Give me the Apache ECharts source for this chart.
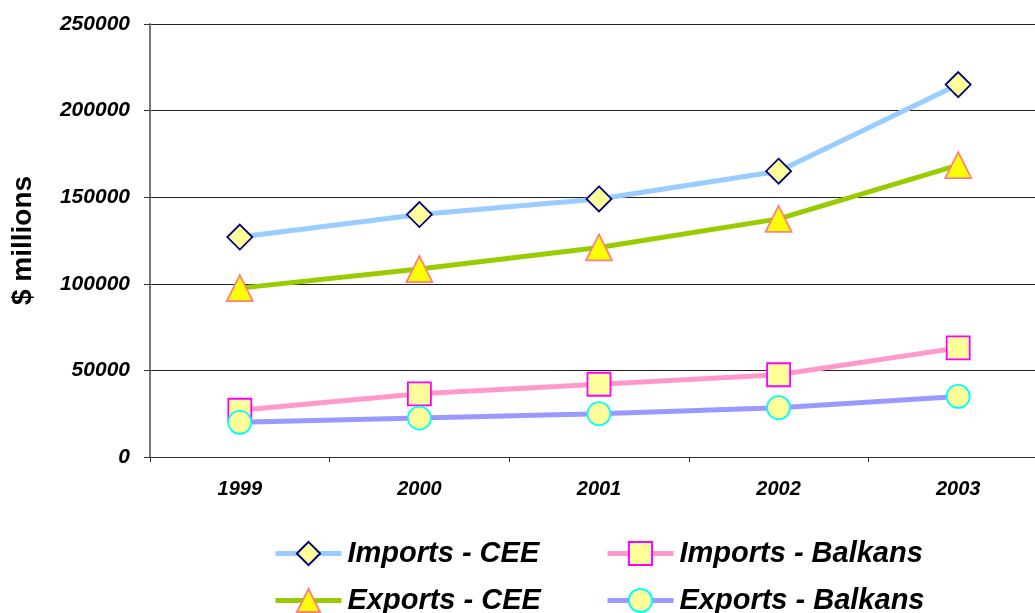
<!DOCTYPE html>
<html>
<head>
<meta charset="utf-8">
<script src="https://cdn.jsdelivr.net/npm/echarts@6/dist/echarts.min.js"></script>
<style>
  html, body { margin: 0; padding: 0; background: #fff; overflow: hidden; }
  #chart { width: 1050px; height: 613px; }
</style>
</head>
<body>
<div id="chart"></div>
<script>
// Trade flows, $ millions
const years = ['1999', '2000', '2001', '2002', '2003'];
const importsCEE = [127000, 140000, 149000, 165000, 215000];
const exportsCEE = [97500, 108500, 121000, 137500, 168500];
const importsBalkans = [27000, 36500, 42000, 47500, 63000];
const exportsBalkans = [20000, 22500, 25000, 28500, 35000];
const yTicks = { min: 0, max: 250000, interval: 50000 };

const FONT = '"Liberation Sans", Arial, sans-serif';

function lineSeries(name, data, lineColor, symbol, size, fill, border) {
  return {
    name: name,
    type: 'line',
    data: data,
    symbol: symbol,
    symbolSize: size,
    showAllSymbol: true,
    lineStyle: { color: lineColor, width: 5 },
    itemStyle: { color: fill, borderColor: border, borderWidth: 1.8 },
    emphasis: { disabled: true },
    z: 3
  };
}

const legendText = {
  fontFamily: FONT, fontSize: 29, fontWeight: 'bold', fontStyle: 'italic', color: '#000',
  padding: [0, 0, 0, 1]
};

// one legend entry per block so the two columns line up
function legendItem(name, left, top) {
  return {
    left: left, top: top, padding: 0,
    itemWidth: 66, itemHeight: 29,
    lineStyle: { width: 5 },
    textStyle: legendText,
    selectedMode: false,
    data: [name]
  };
}

const chart = echarts.init(document.getElementById('chart'), null, { renderer: 'canvas' });

chart.setOption({
  animation: false,
  backgroundColor: '#ffffff',
  grid: { left: 150, top: 24, width: 898, height: 433, containLabel: false, outerBoundsMode: 'none' },
  legend: [
    legendItem('Imports - CEE', 273, 539),
    legendItem('Exports - CEE', 273, 586),
    legendItem('Imports - Balkans', 605, 539),
    legendItem('Exports - Balkans', 605, 586)
  ],
  xAxis: {
    type: 'category',
    data: years,
    boundaryGap: true,
    axisLine: { show: true, lineStyle: { color: '#333', width: 1 } },
    axisTick: { show: true, length: 5, inside: false, lineStyle: { color: '#333' } },
    axisLabel: {
      margin: 22, fontFamily: FONT, fontSize: 20, fontWeight: 'bold', fontStyle: 'italic', color: '#000'
    },
    splitLine: { show: false }
  },
  yAxis: {
    type: 'value',
    min: yTicks.min, max: yTicks.max, interval: yTicks.interval,
    name: '$ millions',
    nameLocation: 'middle',
    nameRotate: 90,
    nameGap: 113,
    nameTextStyle: { fontFamily: FONT, fontSize: 28, fontWeight: 'bold', color: '#000' },
    axisLine: { show: true, lineStyle: { color: '#777', width: 2 } },
    axisTick: { show: true, length: 6, lineStyle: { color: '#333' } },
    axisLabel: {
      margin: 20, fontFamily: FONT, fontSize: 21, fontWeight: 'bold', fontStyle: 'italic', color: '#000',
      formatter: function (v) { return String(v); }
    },
    splitLine: { show: true, lineStyle: { color: '#222', width: 1 } }
  },
  series: [
    lineSeries('Imports - CEE', importsCEE, '#99ccff', 'diamond', 25, '#ffff99', '#000080'),
    lineSeries('Imports - Balkans', importsBalkans, '#ff99cc', 'rect', 23, '#ffff99', '#ff00ff'),
    lineSeries('Exports - CEE', exportsCEE, '#99cc00', 'triangle', 26, '#ffff00', '#ff8080'),
    lineSeries('Exports - Balkans', exportsBalkans, '#9999ff', 'circle', 23, '#ffff99', '#00ffff')
  ]
});
</script>
</body>
</html>
